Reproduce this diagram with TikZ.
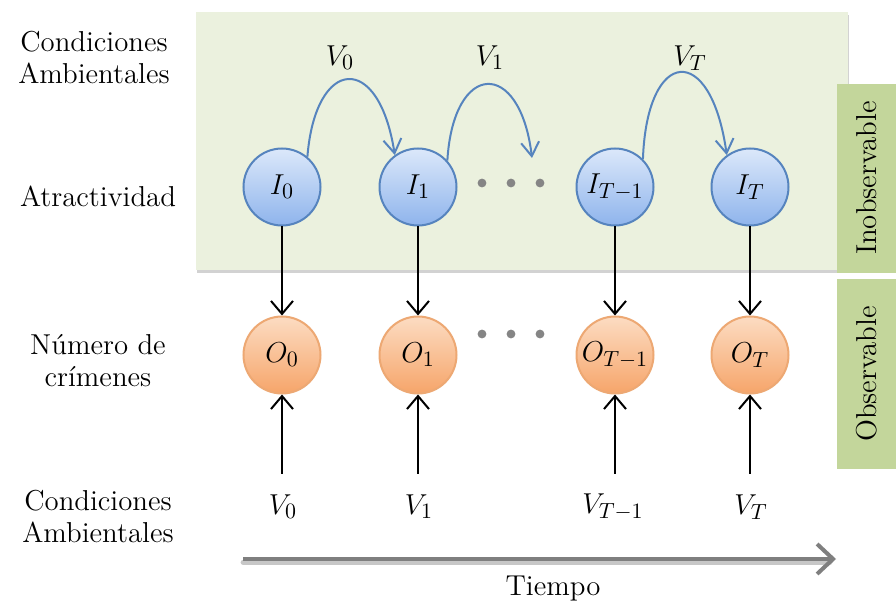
\documentclass[tikz,border=0pt]{standalone}
\usetikzlibrary{arrows.meta,shadows}
\definecolor{bgGreen}{HTML}{EBF1DE}
\definecolor{sideGreen}{HTML}{C3D69B}
\definecolor{arcBlue}{HTML}{5684BE}
\definecolor{iTop}{HTML}{DCE8FA}
\definecolor{iBot}{HTML}{8EB4EC}
\definecolor{oTop}{HTML}{FCDCC2}
\definecolor{oBot}{HTML}{F6A56A}
\definecolor{oLine}{HTML}{EDA873}
\definecolor{dotGray}{HTML}{858585}
\definecolor{timeGray}{HTML}{7F7F7F}
\begin{document}
\begin{tikzpicture}[x=0.5pt,y=-0.5pt,
  lbl/.style={font=\fontsize{14.4}{16}\selectfont, align=center, inner sep=0pt},
  mlbl/.style={font=\fontsize{15.5}{17}\selectfont, inner sep=0pt},
  inode/.style={circle, minimum size=38.5pt, inner sep=0pt, draw=arcBlue, line width=1pt,
    top color=iTop, bottom color=iBot, font=\fontsize{15.5}{17}\selectfont},
  onode/.style={circle, minimum size=38.5pt, inner sep=0pt, draw=oLine, line width=1pt,
    top color=oTop, bottom color=oBot, font=\fontsize{15.5}{17}\selectfont},
  dotc/.style={circle, fill=dotGray, minimum size=4.4pt, inner sep=0pt},
  darr/.style={draw=black, line width=1pt, -{Straight Barb[length=6.5pt,width=11pt]}},
  barr/.style={draw=arcBlue, line width=1pt, -{Straight Barb[length=7pt,width=9pt]}},
  sidebox/.style={fill=sideGreen, draw=none},
  sidelbl/.style={font=\fontsize{14.4}{16}\selectfont, rotate=90, inner sep=0pt}
]
\useasboundingbox (0,0) rectangle (896,604);
\fill[white] (0,0) rectangle (896,604);

% background panel
\path[fill=bgGreen, drop shadow={shadow xshift=0.3pt, shadow yshift=-1.6pt, opacity=0.35, fill=black!50}]
  (196,12) rectangle (848,270);

% side panels
\fill[sidebox] (837,84) rectangle (896,273);
\fill[sidebox] (837,279) rectangle (896,469);
\node[sidelbl] (inobs) at (867,178) {Inobservable};
\node[sidelbl] (obs) at (867,374) {Observable};

% left labels
\node[lbl] (lca1) at (94,58) {Condiciones\\Ambientales};
\node[lbl] (latr) at (98,196) {Atractividad};
\node[lbl] (lnum) at (98,361) {Número de\\crímenes};
\node[lbl] (lca2) at (98,517) {Condiciones\\Ambientales};

% hidden nodes
\node[inode] (I0) at (282,187) {$I_0$};
\node[inode] (I1) at (418,187) {$I_1$};
\node[inode] (ITm) at (615,187) {$I_{T-1}$};
\node[inode] (IT) at (750,187) {$I_T$};

% observed nodes
\node[onode] (O0) at (282,355) {$O_0$};
\node[onode] (O1) at (418,355) {$O_1$};
\node[onode] (OTm) at (615,355) {$O_{T-1}$};
\node[onode] (OT) at (750,355) {$O_T$};

% dots
\node[dotc] (d1) at (482,183) {};
\node[dotc] (d2) at (511,183) {};
\node[dotc] (d3) at (540,183) {};
\node[dotc] (e1) at (482,334) {};
\node[dotc] (e2) at (511,334) {};
\node[dotc] (e3) at (540,334) {};

% top arcs
\coordinate (a1end) at (532,158);
\draw[barr] (I0.50) .. controls +(8,-100) and +(-16,-104) .. (I1.126);
\draw[barr] (I1.42) .. controls +(6,-100) and +(-12,-100) .. (a1end);
\draw[barr] (ITm.45) .. controls +(4,-112) and +(-16,-114) .. (IT.126);
\node[mlbl] (v0t) at (340,58) {$V_0$};
\node[mlbl] (v1t) at (490,58) {$V_1$};
\node[mlbl] (vTt) at (690,58) {$V_T$};

% I -> O
\draw[darr] (I0) -- (O0);
\draw[darr] (I1) -- (O1);
\draw[darr] (ITm) -- (OTm);
\draw[darr] (IT) -- (OT);

% V -> O
\coordinate (b0) at (282,474);
\coordinate (b1) at (418,474);
\coordinate (bTm) at (615,474);
\coordinate (bT) at (750,474);
\draw[darr] (b0) -- (O0);
\draw[darr] (b1) -- (O1);
\draw[darr] (bTm) -- (OTm);
\draw[darr] (bT) -- (OT);
\node[mlbl] (v0b) at (283,507) {$V_0$};
\node[mlbl] (v1b) at (419,507) {$V_1$};
\node[mlbl] (vTmb) at (613,507) {$V_{T-1}$};
\node[mlbl] (vTb) at (751,507) {$V_T$};

% time arrow
\coordinate (t0) at (243,559);
\coordinate (t1) at (836,559);
\draw[black!22, line width=2.4pt, line cap=round] ([yshift=-1.6pt]t0) -- ([yshift=-1.6pt,xshift=-3pt]t1);
\draw[timeGray, line width=2pt, -{Straight Barb[length=8pt,width=15pt]}] (t0) -- (t1);
\node[lbl] (tiempo) at (553,589) {Tiempo};
\end{tikzpicture}
\end{document}
